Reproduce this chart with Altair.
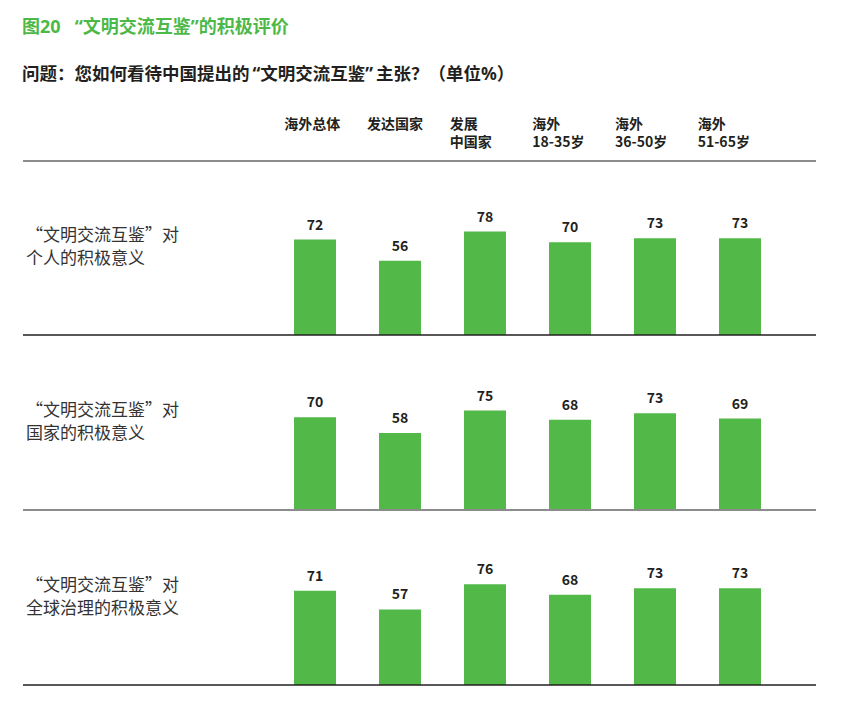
import altair as alt
import pandas as pd

# ---- data ----
categories = ["海外总体", "发达国家", "发展中国家", "海外18-35岁", "海外36-50岁", "海外51-65岁"]
header_labels = ["海外总体", "发达国家", "发展\n中国家", "海外\n18-35岁", "海外\n36-50岁", "海外\n51-65岁"]
row_labels = [
    "“文明交流互鉴”对\n个人的积极意义",
    "“文明交流互鉴”对\n国家的积极意义",
    "“文明交流互鉴”对\n全球治理的积极意义",
]
values_personal = [72, 56, 78, 70, 73, 73]
values_national = [70, 58, 75, 68, 73, 69]
values_global = [71, 57, 76, 68, 73, 73]
title_text = "图20\u00a0\u00a0\u00a0“文明交流互鉴”的积极评价"
subtitle_text = "问题：您如何看待中国提出的\u2009“文明交流互鉴”\u2009主张？（单位%）"

GREEN = "#52b848"
TITLE_GREEN = "#4cb848"
DARK = "#231f20"
GREY = "#8c8c8c"
FONT = "Noto Sans CJK SC"
TITLE_FONT = "Noto Sans, Noto Sans CJK SC"

W = 793
HEADER_H = 152
ROW_H = 175

header_df = pd.DataFrame({"cat": categories, "label": header_labels})
# header labels are left-aligned; scale centres shifted so text starts at column left
header_scale = alt.Scale(domain=categories, range=[220, 716], paddingInner=0, paddingOuter=0)
bar_scale = alt.Scale(domain=categories, range=[271, 738], paddingInner=0.506, paddingOuter=0)
y_scale = alt.Scale(domain=[0, 132], nice=False)

one = pd.DataFrame({"t": [title_text], "s": [subtitle_text]})

title_mark = alt.Chart(one).mark_text(
    font=TITLE_FONT, fontSize=18, fontWeight="bold", color=TITLE_GREEN, align="left", baseline="middle"
).encode(x=alt.value(-1), y=alt.value(20), text="t:N")

subtitle_mark = alt.Chart(one).mark_text(
    font=TITLE_FONT, fontSize=17.5, fontWeight="bold", color=DARK, align="left", baseline="middle"
).encode(x=alt.value(-1), y=alt.value(67), text="s:N")

header_text = alt.Chart(header_df).mark_text(
    font=FONT, fontSize=14, fontWeight="bold", color=DARK, align="left", baseline="top",
    lineBreak="\n", lineHeight=18
).encode(
    x=alt.X("cat:N", scale=header_scale, axis=None, sort=categories),
    y=alt.value(110),
    text="label:N",
)

header_line = alt.Chart(one).mark_rule(color=GREY, strokeWidth=2).encode(
    x=alt.value(0), x2=alt.value(W), y=alt.value(HEADER_H + 1)
)

header = alt.layer(title_mark, subtitle_mark, header_text, header_line).properties(
    width=W, height=HEADER_H
)


def row_panel(values, label, line_color, line_width):
    df = pd.DataFrame({"cat": categories, "value": values})
    lab = pd.DataFrame({"label": [label]})
    bars = alt.Chart(df).mark_bar(color=GREEN).encode(
        x=alt.X("cat:N", scale=bar_scale, axis=None, sort=categories),
        y=alt.Y("value:Q", scale=y_scale, axis=None),
    )
    nums = alt.Chart(df).mark_text(
        font=FONT, fontSize=14, fontWeight="bold", color=DARK, baseline="alphabetic", dy=-10
    ).encode(
        x=alt.X("cat:N", scale=bar_scale, axis=None, sort=categories),
        y=alt.Y("value:Q", scale=y_scale, axis=None),
        text="value:Q",
    )
    base = alt.Chart(lab).mark_rule(color=line_color, strokeWidth=line_width).encode(
        x=alt.value(0), x2=alt.value(W), y=alt.datum(0, scale=y_scale)
    )
    text = alt.Chart(lab).mark_text(
        font=FONT, fontSize=17, color="#333333", align="left", baseline="top",
        lineBreak="\n", lineHeight=23
    ).encode(x=alt.value(3), y=alt.value(68), text="label:N")
    return alt.layer(bars, nums, base, text).properties(width=W, height=ROW_H)


row1 = row_panel(values_personal, row_labels[0], DARK, 1.5)
row2 = row_panel(values_national, row_labels[1], GREY, 2)
row3 = row_panel(values_global, row_labels[2], DARK, 1.5)

chart = alt.vconcat(header, row1, row2, row3, spacing=0, bounds="flush").resolve_scale(
    x="independent", y="independent"
).properties(
    padding={"left": 14, "top": 0, "right": 0, "bottom": 0}
).configure(background="white").configure_view(strokeWidth=0, stroke="transparent")

chart.save("out.html", embed_options={"renderer": "svg", "actions": False})
